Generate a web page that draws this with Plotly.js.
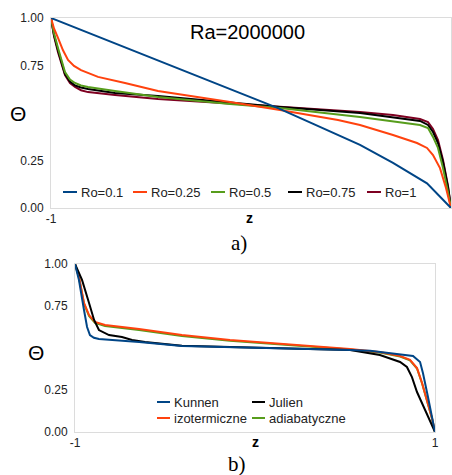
<!DOCTYPE html>
<html>
<head>
<meta charset="utf-8">
<script src="https://cdn.plot.ly/plotly-3.0.1.min.js"></script>
<style>html,body{margin:0;padding:0;background:#fff;}#chart{width:452px;height:475px;}</style>
</head>
<body>
<div id="chart"></div>
<script>
// ---- Chart a) Ra=2000000 ----
const zRo01 = [-1, -0.8, -0.465, -0.105, 0.135, 0.3, 0.545, 0.71, 0.88, 1];
const thRo01 = [1, 0.916, 0.774, 0.626, 0.526, 0.448, 0.332, 0.237, 0.13, 0];

const zRo025 = [-1, -0.985, -0.965, -0.94, -0.915, -0.885, -0.85, -0.765, -0.63, -0.465, -0.105, 0.145, 0.435, 0.545, 0.71, 0.83, 0.88, 0.91, 0.945, 0.975, 1];
const thRo025 = [1, 0.945, 0.895, 0.83, 0.779, 0.748, 0.726, 0.69, 0.658, 0.616, 0.558, 0.516, 0.463, 0.437, 0.384, 0.342, 0.316, 0.279, 0.21, 0.105, 0];

const zRoHi = [-1, -0.985, -0.965, -0.945, -0.93, -0.905, -0.88, -0.85, -0.815, -0.68, -0.465, -0.105, 0.145, 0.545, 0.71, 0.845, 0.885, 0.91, 0.935, 0.96, 0.985, 1];
const thRo05 = [1, 0.92, 0.842, 0.77, 0.716, 0.676, 0.658, 0.645, 0.637, 0.616, 0.584, 0.547, 0.526, 0.479, 0.458, 0.437, 0.421, 0.374, 0.316, 0.21, 0.084, 0];
const thRo075 = [1, 0.91, 0.83, 0.755, 0.705, 0.665, 0.645, 0.634, 0.626, 0.605, 0.59, 0.555, 0.531, 0.5, 0.479, 0.458, 0.437, 0.4, 0.342, 0.242, 0.11, 0];
const thRo1 = [1, 0.905, 0.82, 0.745, 0.70, 0.658, 0.637, 0.62, 0.61, 0.595, 0.574, 0.55, 0.532, 0.505, 0.489, 0.468, 0.452, 0.416, 0.358, 0.253, 0.116, 0];

// ---- Chart b) ----
const zKunnen = [-1, -0.978, -0.95, -0.933, -0.917, -0.895, -0.867, -0.644, -0.406, -0.139, 0.2, 0.528, 0.639, 0.806, 0.878, 0.917, 0.933, 0.961, 0.989, 1];
const thKunnen = [1, 0.905, 0.726, 0.625, 0.577, 0.561, 0.554, 0.536, 0.512, 0.506, 0.498, 0.488, 0.484, 0.462, 0.452, 0.417, 0.351, 0.208, 0.071, 0];

const zIzo = [-1, -0.978, -0.95, -0.922, -0.889, -0.833, -0.644, -0.406, -0.139, 0.2, 0.528, 0.7, 0.806, 0.861, 0.9, 0.928, 0.956, 0.983, 1];
const thIzo = [1, 0.923, 0.768, 0.696, 0.655, 0.637, 0.613, 0.577, 0.548, 0.52, 0.494, 0.475, 0.452, 0.429, 0.381, 0.292, 0.19, 0.083, 0];
const thAdia = [1, 0.92, 0.764, 0.69, 0.649, 0.631, 0.607, 0.571, 0.543, 0.516, 0.491, 0.472, 0.449, 0.426, 0.378, 0.29, 0.188, 0.082, 0];

const zJulien = [-1, -0.961, -0.922, -0.894, -0.867, -0.811, -0.739, -0.683, -0.611, -0.406, -0.139, 0.2, 0.528, 0.694, 0.806, 0.844, 0.872, 0.9, 0.944, 0.989, 1];
const thJulien = [1, 0.905, 0.768, 0.667, 0.607, 0.577, 0.565, 0.548, 0.536, 0.514, 0.506, 0.498, 0.488, 0.458, 0.417, 0.387, 0.327, 0.238, 0.131, 0.03, 0];

const yTicks = [0, 0.25, 0.75, 1];
const yTickText = ['0.00', '0.25', '0.75', '1.00'];
const xTicks = [-1, 1];
const xTickText = ['-1', '1'];

const topNames = ['Ro=0.1', 'Ro=0.25', 'Ro=0.5', 'Ro=0.75', 'Ro=1'];
const bottomNames = ['Kunnen', 'Julien', 'izotermiczne', 'adiabatyczne'];

const BLUE = '#004586', ORANGE = '#ff420e', GREEN = '#579d1c', BLACK = '#000000', MAROON = '#7e0021';
const topColors = [BLUE, ORANGE, GREEN, BLACK, MAROON];
const bottomColors = [BLUE, BLACK, ORANGE, GREEN];

const traces = [
  {x: zRoHi, y: thRo1, name: topNames[4], line: {color: MAROON, width: 2}},
  {x: zRoHi, y: thRo075, name: topNames[3], line: {color: BLACK, width: 2}},
  {x: zRoHi, y: thRo05, name: topNames[2], line: {color: GREEN, width: 2}},
  {x: zRo025, y: thRo025, name: topNames[1], line: {color: ORANGE, width: 2}},
  {x: zRo01, y: thRo01, name: topNames[0], line: {color: BLUE, width: 2}},

  {x: zIzo, y: thAdia, name: bottomNames[3], xaxis: 'x2', yaxis: 'y2', line: {color: GREEN, width: 2}},
  {x: zIzo, y: thIzo, name: bottomNames[2], xaxis: 'x2', yaxis: 'y2', line: {color: ORANGE, width: 2}},
  {x: zJulien, y: thJulien, name: bottomNames[1], xaxis: 'x2', yaxis: 'y2', line: {color: BLACK, width: 2}},
  {x: zKunnen, y: thKunnen, name: bottomNames[0], xaxis: 'x2', yaxis: 'y2', line: {color: BLUE, width: 2}}
].map(t => Object.assign({type: 'scatter', mode: 'lines', hoverinfo: 'skip', showlegend: false}, t));

const font = 'Liberation Sans, Arial, sans-serif';
const axisCommon = {
  showgrid: false, zeroline: false, showline: true, linecolor: '#dcdcdc', linewidth: 1, mirror: true,
  ticks: '', tickfont: {family: font, size: 12, color: '#222'}, fixedrange: true
};

// Compact legends (short line sample + label), built from the name/colour arrays
const W = 452, H = 475;
const shapes = [];
const annotations = [];
function legendItem(name, color, xpx, ypx, len) {
  shapes.push({type: 'line', xref: 'paper', yref: 'paper', x0: xpx / W, x1: (xpx + len) / W, y0: 1 - ypx / H, y1: 1 - ypx / H, line: {color: color, width: 2}});
  annotations.push({text: name, xref: 'paper', yref: 'paper', x: (xpx + len + 2) / W, y: 1 - ypx / H, xanchor: 'left', yanchor: 'middle', showarrow: false, font: {family: font, size: 13, color: '#222'}});
}
const topLegendX = [63, 133, 211, 288, 367];
topNames.forEach((n, i) => legendItem(n, topColors[i], topLegendX[i], 192, 14));
const botLegendPos = [[157, 402], [252, 402], [157, 418], [252, 418]];
bottomNames.forEach((n, i) => legendItem(n, bottomColors[i], botLegendPos[i][0], botLegendPos[i][1], 13));

annotations.push(
  {text: 'Ra=2000000', xref: 'paper', yref: 'paper', x: 247/W, y: 1-32/H, xanchor: 'center', yanchor: 'middle', showarrow: false, font: {family: font, size: 20, color: '#000'}},
  {text: 'Θ', xref: 'paper', yref: 'paper', x: 18/W, y: 1-113/H, xanchor: 'center', yanchor: 'middle', showarrow: false, font: {family: font, size: 21, color: '#000'}},
  {text: 'Θ', xref: 'paper', yref: 'paper', x: 36/W, y: 1-352/H, xanchor: 'center', yanchor: 'middle', showarrow: false, font: {family: font, size: 21, color: '#000'}},
  {text: '<b>z</b>', xref: 'paper', yref: 'paper', x: 249/W, y: 1-218/H, xanchor: 'center', yanchor: 'middle', showarrow: false, font: {family: font, size: 14, color: '#000'}},
  {text: '<b>z</b>', xref: 'paper', yref: 'paper', x: 255/W, y: 1-442/H, xanchor: 'center', yanchor: 'middle', showarrow: false, font: {family: font, size: 14, color: '#000'}},
  {text: 'a)', xref: 'paper', yref: 'paper', x: 239/W, y: 1-243/H, xanchor: 'center', yanchor: 'middle', showarrow: false, font: {family: 'Liberation Serif, Times New Roman, serif', size: 21, color: '#000'}},
  {text: 'b)', xref: 'paper', yref: 'paper', x: 237/W, y: 1-464/H, xanchor: 'center', yanchor: 'middle', showarrow: false, font: {family: 'Liberation Serif, Times New Roman, serif', size: 21, color: '#000'}}
);

const layout = {
  width: W, height: H, autosize: false,
  margin: {l: 0, r: 0, t: 0, b: 0},
  paper_bgcolor: '#ffffff', plot_bgcolor: '#ffffff',
  font: {family: font, size: 12, color: '#222'},
  showlegend: false,
  xaxis: Object.assign({}, axisCommon, {domain: [51/W, 451/W], range: [-1, 1], tickvals: xTicks, ticktext: xTickText, anchor: 'y'}),
  yaxis: Object.assign({}, axisCommon, {domain: [1-208/H, 1-18/H], range: [0, 1], tickvals: yTicks, ticktext: yTickText, anchor: 'x', ticklabelstandoff: 4}),
  xaxis2: Object.assign({}, axisCommon, {domain: [75/W, 435/W], range: [-1, 1], tickvals: xTicks, ticktext: xTickText, anchor: 'y2'}),
  yaxis2: Object.assign({}, axisCommon, {domain: [1-432/H, 1-264/H], range: [0, 1], tickvals: yTicks, ticktext: yTickText, anchor: 'x2', ticklabelstandoff: 4}),
  shapes: shapes,
  annotations: annotations
};

Plotly.newPlot('chart', traces, layout, {staticPlot: true, displayModeBar: false});
</script>
</body>
</html>
